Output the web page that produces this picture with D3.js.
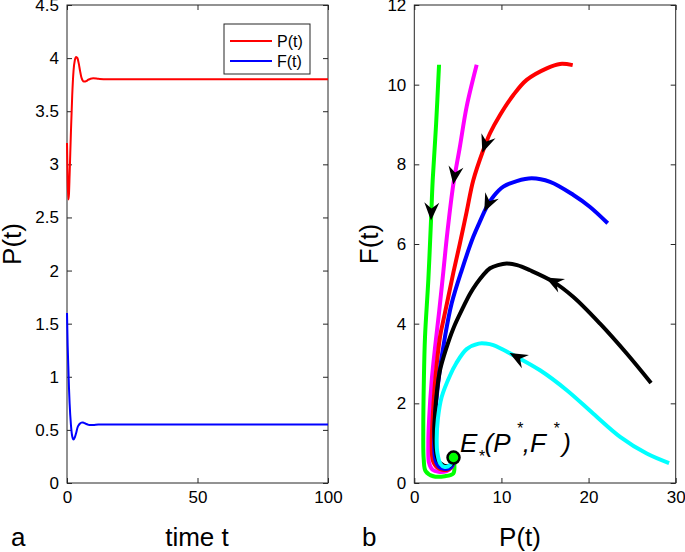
<!DOCTYPE html>
<html>
<head>
<meta charset="utf-8">
<script src="https://cdn.jsdelivr.net/npm/d3@7"></script>
<style>
  body { margin: 0; background: #fff; }
  svg { font-family: "Liberation Sans", Arial, sans-serif; }
</style>
</head>
<body>
<svg id="fig" width="685" height="552"></svg>
<script>
// time series (panel a)
var tVals = [0, 0.25, 0.5, 0.75, 1, 1.5, 2, 2.5, 3, 3.5, 4, 4.5, 5, 5.5, 6, 6.5, 7, 7.5, 8, 9, 10, 12, 15, 20, 25, 30, 100];
var pVals = [3.2, 2.85, 2.67, 2.72, 2.9, 3.3, 3.65, 3.88, 3.98, 4.01, 4.0, 3.95, 3.88, 3.82, 3.79, 3.78, 3.78, 3.785, 3.795, 3.805, 3.81, 3.805, 3.8, 3.8, 3.8, 3.8, 3.8];
var fVals = [1.6, 1.3, 1.1, 0.9, 0.75, 0.55, 0.44, 0.41, 0.43, 0.47, 0.52, 0.545, 0.56, 0.568, 0.57, 0.566, 0.56, 0.555, 0.55, 0.545, 0.545, 0.55, 0.55, 0.55, 0.55, 0.55, 0.55];

// phase plane trajectories (panel b): [P, F] from start to equilibrium
var greenPts = [[2.84,10.5],[2.5,9],[2.11,7.6],[1.92,6.6],[1.61,5.1],[1.23,3.67],[1.1,2.6],[1.03,1.32],[1.08,0.6],[1.3,0.3],[2.18,0.17],[3.5,0.17],[4.48,0.24],[4.6,0.45],[4.5,0.64]];
var magentaPts = [[7.16,10.5],[6.01,9.45],[5.2,8.4],[4.48,7.5],[3.8,6.3],[3.33,5.3],[2.85,4.3],[2.38,3.4],[2.0,2.58],[1.7,1.6],[1.61,1.0],[1.7,0.5],[2.1,0.33],[2.76,0.28],[3.7,0.3],[4.3,0.4],[4.5,0.64]];
var redPts = [[18.18,10.49],[16.73,10.52],[15.2,10.41],[12.9,10.12],[11.37,9.74],[9.84,9.24],[8.69,8.78],[7.92,8.36],[6.77,7.6],[6.0,6.8],[5.22,6.0],[4.5,5.3],[3.9,4.67],[3.4,4.15],[2.95,3.67],[2.45,2.7],[2.15,1.8],[2.0,1.0],[2.15,0.55],[2.7,0.38],[3.8,0.33],[4.4,0.45],[4.5,0.64]];
var bluePts = [[22.2,6.52],[20.17,6.93],[18.26,7.23],[15.58,7.56],[13.48,7.65],[11.76,7.58],[10.22,7.44],[9.1,7.2],[8.31,6.93],[7.5,6.55],[6.77,6.18],[5.44,5.34],[4.29,4.51],[3.52,3.67],[2.9,2.8],[2.5,2.0],[2.3,1.2],[2.4,0.6],[2.9,0.4],[3.9,0.36],[4.4,0.45],[4.5,0.64]];
var blackPts = [[27.17,2.51],[24.38,3.25],[21.32,4.0],[18.26,4.67],[15.96,5.05],[13.28,5.34],[11.8,5.47],[10.6,5.51],[9.6,5.47],[8.69,5.39],[7.9,5.22],[7.16,5.01],[6.4,4.75],[5.63,4.42],[4.48,3.88],[3.7,3.4],[2.95,2.83],[2.6,2.3],[2.38,1.74],[2.3,1.3],[2.38,0.99],[2.6,0.65],[2.95,0.5],[3.9,0.42],[4.4,0.5],[4.5,0.64]];
var cyanPts = [[29.24,0.5],[26.68,0.74],[23.62,1.16],[20.55,1.74],[17.5,2.33],[14.43,2.83],[11.37,3.21],[9.07,3.46],[8.2,3.5],[7.4,3.5],[6.01,3.36],[4.8,3.0],[4.1,2.7],[3.14,2.16],[2.7,1.6],[2.57,1.1],[2.65,0.75],[3.0,0.48],[3.5,0.4],[4.1,0.45],[4.5,0.64]];

var trajectories = [
  {pts: greenPts, color: "#00ff00", arrow: [1.92, 6.6]},
  {pts: magentaPts, color: "#ff00ff", arrow: [4.6, 7.48]},
  {pts: redPts, color: "#ff0000", arrow: [7.92, 8.28]},
  {pts: bluePts, color: "#0000ff", arrow: [8.12, 6.81]},
  {pts: blackPts, color: "#000000", arrow: [15.0, 5.13]},
  {pts: cyanPts, color: "#00ffff", arrow: [10.8, 3.21]}
];
var equilibrium = [4.5, 0.64];

var ticksA_x = [0, 50, 100];
var ticksA_y = [0, 0.5, 1, 1.5, 2, 2.5, 3, 3.5, 4, 4.5];
var ticksB_x = [0, 10, 20, 30];
var ticksB_y = [0, 2, 4, 6, 8, 10, 12];

var svg = d3.select("#fig");
var axisColor = "#262626";

function drawBox(g, x, y, xt, yt, fmt) {
  var x0 = x.range()[0], x1 = x.range()[1], y0 = y.range()[0], y1 = y.range()[1];
  g.append("rect").attr("x", x0).attr("y", y1).attr("width", x1 - x0).attr("height", y0 - y1)
    .attr("fill", "none").attr("stroke", axisColor).attr("stroke-width", 1);
  var ax = [
    [d3.axisBottom(x).tickValues(xt).tickFormat(fmt), y0, 0],
    [d3.axisTop(x).tickValues(xt).tickFormat(""), y1, 0],
    [d3.axisLeft(y).tickValues(yt).tickFormat(fmt), 0, x0],
    [d3.axisRight(y).tickValues(yt).tickFormat(""), 0, x1]
  ];
  ax.forEach(function(a) {
    var sel = g.append("g").attr("transform", "translate(" + a[2] + "," + a[1] + ")")
      .call(a[0].tickSize(-5).tickPadding(8));
    sel.select(".domain").remove();
    sel.selectAll("line").attr("stroke", axisColor);
    sel.selectAll("text").attr("fill", "#000").style("font-size", "17px")
      .style("font-family", "'Liberation Sans', Arial, sans-serif");
  });
}

var fmt = d3.format("~g");

// ---- panel a
var xa = d3.scaleLinear().domain([0, 100]).range([67, 328]);
var ya = d3.scaleLinear().domain([0, 4.5]).range([483, 5]);
var ga = svg.append("g");
drawBox(ga, xa, ya, ticksA_x, ticksA_y, fmt);

var lineP = d3.line().x(function(d, i) { return xa(tVals[i]); }).y(function(d) { return ya(d); }).curve(d3.curveMonotoneX);
ga.append("path").attr("d", lineP(pVals)).attr("fill", "none").attr("stroke", "#ff0000").attr("stroke-width", 2);
ga.append("path").attr("d", lineP(fVals)).attr("fill", "none").attr("stroke", "#0000ff").attr("stroke-width", 2);

// legend
var lg = ga.append("g");
lg.append("rect").attr("x", 224).attr("y", 24).attr("width", 86).attr("height", 50)
  .attr("fill", "#fff").attr("stroke", axisColor).attr("stroke-width", 1);
[["P(t)", "#ff0000", 41], ["F(t)", "#0000ff", 61]].forEach(function(l) {
  lg.append("line").attr("x1", 230).attr("x2", 272).attr("y1", l[2]).attr("y2", l[2])
    .attr("stroke", l[1]).attr("stroke-width", 2);
  lg.append("text").attr("x", 277).attr("y", l[2] + 6).style("font-size", "16px").text(l[0]);
});

ga.append("text").attr("x", 197).attr("y", 546).attr("text-anchor", "middle").style("font-size", "26px").text("time t");
ga.append("text").attr("transform", "translate(21,244) rotate(-90)").attr("text-anchor", "middle").style("font-size", "26px").text("P(t)");
ga.append("text").attr("x", 11).attr("y", 546).style("font-size", "26px").text("a");

// ---- panel b
var xb = d3.scaleLinear().domain([0, 30]).range([414.3, 675.7]);
var yb = d3.scaleLinear().domain([0, 12]).range([483, 5]);
var gb = svg.append("g");
drawBox(gb, xb, yb, ticksB_x, ticksB_y, fmt);

var linePF = d3.line().x(function(d) { return xb(d[0]); }).y(function(d) { return yb(d[1]); }).curve(d3.curveCatmullRom.alpha(0.5));

var paths = trajectories.map(function(tr) {
  return gb.append("path").attr("d", linePF(tr.pts)).attr("fill", "none")
    .attr("stroke", tr.color).attr("stroke-width", 4).attr("stroke-linejoin", "round");
});

// arrows, oriented along each trajectory
trajectories.forEach(function(tr, i) {
  var node = paths[i].node();
  var L = node.getTotalLength();
  var tx = xb(tr.arrow[0]), ty = yb(tr.arrow[1]);
  var best = 0, bd = Infinity;
  for (var s = 0; s <= L; s += 1) {
    var p = node.getPointAtLength(s);
    var dd = (p.x - tx) * (p.x - tx) + (p.y - ty) * (p.y - ty);
    if (dd < bd) { bd = dd; best = s; }
  }
  var a = node.getPointAtLength(Math.max(0, best - 4));
  var b = node.getPointAtLength(Math.min(L, best + 4));
  var ang = Math.atan2(b.y - a.y, b.x - a.x) * 180 / Math.PI;
  var tip = node.getPointAtLength(best);
  gb.append("path").attr("d", "M0,0 L-18,-7.5 L-12,0 L-18,7.5 Z")
    .attr("transform", "translate(" + tip.x + "," + tip.y + ") rotate(" + ang + ")")
    .attr("fill", "#000");
});

gb.append("circle").attr("cx", xb(equilibrium[0])).attr("cy", yb(equilibrium[1])).attr("r", 6)
  .attr("fill", "#00ff00").attr("stroke", "#000").attr("stroke-width", 2.5);

var lab = gb.append("text").attr("x", 460).attr("y", 452).style("font-size", "26px").style("font-style", "italic");
lab.append("tspan").text("E");
lab.append("tspan").attr("dx", 1).attr("dy", 10).style("font-size", "16px").text("*");
lab.append("tspan").attr("dy", -10).text("(P");
lab.append("tspan").attr("dx", 6).attr("dy", -18).style("font-size", "16px").text("*");
lab.append("tspan").attr("dy", 18).text(",F");
lab.append("tspan").attr("dx", 7).attr("dy", -18).style("font-size", "16px").text("*");
lab.append("tspan").attr("dx", 3).attr("dy", 18).text(")");

gb.append("text").attr("x", 520).attr("y", 546).attr("text-anchor", "middle").style("font-size", "26px").text("P(t)");
gb.append("text").attr("transform", "translate(378,244) rotate(-90)").attr("text-anchor", "middle").style("font-size", "26px").text("F(t)");
gb.append("text").attr("x", 362).attr("y", 546).style("font-size", "26px").text("b");
</script>
</body>
</html>
